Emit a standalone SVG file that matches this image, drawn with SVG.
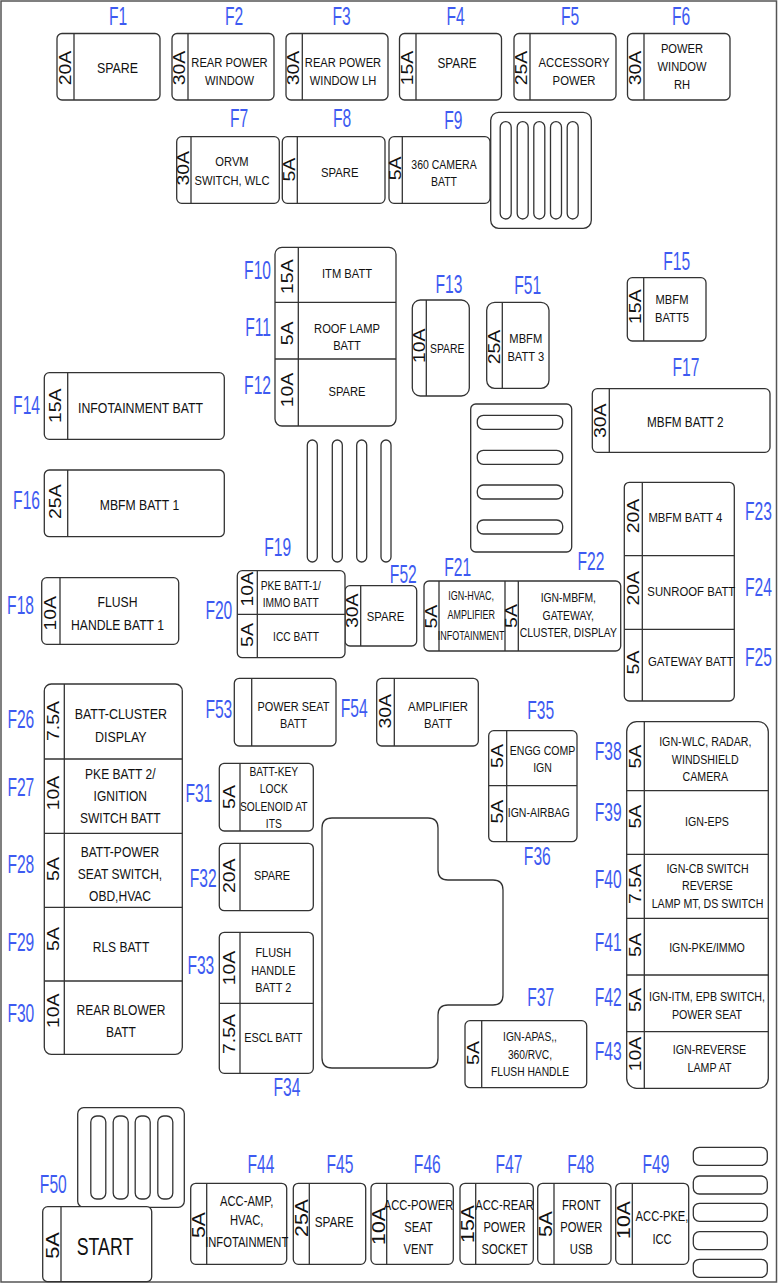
<svg xmlns="http://www.w3.org/2000/svg" width="782" height="1284" viewBox="0 0 782 1284">
<style>
.bx{fill:#fff;stroke:#333;stroke-width:1.3}
.ln{fill:none;stroke:#333;stroke-width:1.3}
.sl{fill:#fff;stroke:#333;stroke-width:1.3}
.l{font-family:"Liberation Sans",Arial,sans-serif;font-size:26px;fill:#3d5af1;text-anchor:middle;dominant-baseline:central}
.e{text-anchor:end}
.s{text-anchor:start}
.t{font-family:"Liberation Sans",Arial,sans-serif;font-size:13px;fill:#111;text-anchor:middle;dominant-baseline:central}
.a{font-family:"Liberation Sans",Arial,sans-serif;font-size:16.5px;fill:#111;text-anchor:middle;dominant-baseline:central}
</style>
<rect x="1" y="1" width="775.5" height="1281" fill="#fff" stroke="#555" stroke-width="1.5"/>

<!-- top row -->
<g id="F1"><rect class="bx" x="57" y="33.5" width="103" height="66.5" rx="5"/><path class="ln" d="M74 33.5V100"/>
<text class="a" transform="translate(65.5 68) rotate(-90) scale(1.18 1)">20A</text>
<text class="t" transform="translate(117.5 0) scale(.8 1)" style="font-size:15.5px"><tspan x="0" y="67">SPARE</tspan></text>
<text class="l" transform="translate(118 17) scale(.6 1)">F1</text></g>

<g id="F2"><rect class="bx" x="172" y="33.5" width="102" height="66.5" rx="5"/><path class="ln" d="M188 33.5V100"/>
<text class="a" transform="translate(180 68) rotate(-90) scale(1.18 1)">30A</text>
<text class="t" transform="translate(229.5 0) scale(.86 1)"><tspan x="0" y="63">REAR POWER</tspan><tspan x="0" y="80.5">WINDOW</tspan></text>
<text class="l" transform="translate(234 17) scale(.6 1)">F2</text></g>

<g id="F3"><rect class="bx" x="286" y="33.5" width="102" height="66.5" rx="5"/><path class="ln" d="M302.3 33.5V100"/>
<text class="a" transform="translate(294 68) rotate(-90) scale(1.18 1)">30A</text>
<text class="t" transform="translate(343 0) scale(.86 1)"><tspan x="0" y="63">REAR POWER</tspan><tspan x="0" y="80.5">WINDOW LH</tspan></text>
<text class="l" transform="translate(341.7 17) scale(.6 1)">F3</text></g>

<g id="F4"><rect class="bx" x="399.5" y="33.5" width="102" height="66.5" rx="5"/><path class="ln" d="M416 33.5V100"/>
<text class="a" transform="translate(407.7 68) rotate(-90) scale(1.18 1)">15A</text>
<text class="t" transform="translate(457 0) scale(.84 1)" style="font-size:14px"><tspan x="0" y="62.5">SPARE</tspan></text>
<text class="l" transform="translate(455.7 17) scale(.6 1)">F4</text></g>

<g id="F5"><rect class="bx" x="514" y="33.5" width="102" height="66.5" rx="5"/><path class="ln" d="M530 33.5V100"/>
<text class="a" transform="translate(522 68) rotate(-90) scale(1.18 1)">25A</text>
<text class="t" transform="translate(574 0) scale(.84 1)" style="font-size:13.5px"><tspan x="0" y="62.8">ACCESSORY</tspan><tspan x="0" y="80.5">POWER</tspan></text>
<text class="l" transform="translate(570 17) scale(.6 1)">F5</text></g>

<g id="F6"><rect class="bx" x="627.5" y="33.5" width="102.5" height="66.5" rx="5"/><path class="ln" d="M644 33.5V100"/>
<text class="a" transform="translate(635.7 68) rotate(-90) scale(1.18 1)">30A</text>
<text class="t" transform="translate(682 0) scale(.86 1)"><tspan x="0" y="48.7">POWER</tspan><tspan x="0" y="66.7">WINDOW</tspan><tspan x="0" y="84.3">RH</tspan></text>
<text class="l" transform="translate(681 17) scale(.6 1)">F6</text></g>

<!-- row 2 -->
<g id="F7"><rect class="bx" x="176.7" y="136.7" width="102.6" height="66.6" rx="5"/><path class="ln" d="M191 136.7V203.3"/>
<text class="a" transform="translate(183.8 168.3) rotate(-90) scale(1.18 1)">30A</text>
<text class="t" transform="translate(232 0) scale(.86 1)"><tspan x="0" y="162">ORVM</tspan><tspan x="0" y="180.3">SWITCH, WLC</tspan></text>
<text class="l" transform="translate(239 118.7) scale(.6 1)">F7</text></g>

<g id="F8"><rect class="bx" x="282.3" y="136.7" width="102.7" height="66.6" rx="5"/><path class="ln" d="M297.3 136.7V203.3"/>
<text class="a" transform="translate(289.8 169.7) rotate(-90) scale(1.18 1)">5A</text>
<text class="t" transform="translate(339.7 0) scale(.84 1)" style="font-size:13.5px"><tspan x="0" y="172.2">SPARE</tspan></text>
<text class="l" transform="translate(342 118.7) scale(.6 1)">F8</text></g>

<g id="F9"><rect class="bx" x="389" y="136.7" width="101" height="66.6" rx="5"/><path class="ln" d="M402.3 136.7V203.3"/>
<text class="a" transform="translate(395.9 168.3) rotate(-90) scale(1.18 1)">5A</text>
<text class="t" transform="translate(444 0) scale(.84 1)" style="font-size:12.5px"><tspan x="0" y="164.3">360 CAMERA</tspan><tspan x="0" y="181.7">BATT</tspan></text>
<text class="l" transform="translate(453.3 120.7) scale(.6 1)">F9</text></g>

<g id="relay-1"><rect class="bx" x="490.7" y="112.3" width="100.6" height="116" rx="8"/>
<rect class="sl" x="500.2" y="121.7" width="11" height="97.3" rx="5.5"/>
<rect class="sl" x="517.2" y="121.7" width="11" height="97.3" rx="5.5"/>
<rect class="sl" x="533.8" y="121.7" width="11" height="97.3" rx="5.5"/>
<rect class="sl" x="550.5" y="121.7" width="11" height="97.3" rx="5.5"/>
<rect class="sl" x="567.2" y="121.7" width="11" height="97.3" rx="5.5"/></g>

<!-- F10-F12 -->
<g id="block-F10-F12"><rect class="bx" x="275" y="247.3" width="121" height="178.7" rx="7"/><path class="ln" d="M298.3 247.3V426M275 302.3H396M275 359H396"/>
<g id="F10"><text class="a" transform="translate(288 276.7) rotate(-90) scale(1.18 1)">15A</text>
<text class="t" transform="translate(347 0) scale(.86 1)"><tspan x="0" y="273.3">ITM BATT</tspan></text>
<text class="l e" transform="translate(271 270.8) scale(.6 1)">F10</text></g>
<g id="F11"><text class="a" transform="translate(288 333.3) rotate(-90) scale(1.18 1)">5A</text>
<text class="t" transform="translate(347 0) scale(.86 1)"><tspan x="0" y="328.7">ROOF LAMP</tspan><tspan x="0" y="346">BATT</tspan></text>
<text class="l e" transform="translate(271 328) scale(.6 1)">F11</text></g>
<g id="F12"><text class="a" transform="translate(288 390) rotate(-90) scale(1.18 1)">10A</text>
<text class="t" transform="translate(347 0) scale(.86 1)"><tspan x="0" y="391.3">SPARE</tspan></text>
<text class="l e" transform="translate(271 385.5) scale(.6 1)">F12</text></g></g>

<g id="F13"><rect class="bx" x="412.3" y="300" width="57" height="96" rx="8"/><path class="ln" d="M426.3 300V396"/>
<text class="a" transform="translate(419.3 345.8) rotate(-90) scale(1.18 1)">10A</text>
<text class="t" transform="translate(447.2 0) scale(.8 1)"><tspan x="0" y="347">SPARE</tspan></text>
<text class="l" transform="translate(449 284.2) scale(.6 1)">F13</text></g>

<g id="F51"><rect class="bx" x="486.7" y="302.3" width="62.3" height="86" rx="8"/><path class="ln" d="M502.3 302.3V388.3"/>
<text class="a" transform="translate(494.5 347) rotate(-90) scale(1.18 1)">25A</text>
<text class="t" transform="translate(525.8 0) scale(.86 1)"><tspan x="0" y="338.7">MBFM</tspan><tspan x="0" y="356.3">BATT 3</tspan></text>
<text class="l" transform="translate(527.7 285.5) scale(.6 1)">F51</text></g>

<g id="F15"><rect class="bx" x="627.3" y="277.7" width="78.7" height="63.3" rx="5"/><path class="ln" d="M643.7 277.7V341"/>
<text class="a" transform="translate(635.5 306.7) rotate(-90) scale(1.18 1)">15A</text>
<text class="t" transform="translate(672 0) scale(.86 1)"><tspan x="0" y="300">MBFM</tspan><tspan x="0" y="317.7">BATT5</tspan></text>
<text class="l" transform="translate(676.7 261.7) scale(.6 1)">F15</text></g>

<g id="F17"><rect class="bx" x="592.3" y="388.7" width="177.7" height="63.6" rx="5"/><path class="ln" d="M609.3 388.7V452.3"/>
<text class="a" transform="translate(600.8 420.8) rotate(-90) scale(1.18 1)">30A</text>
<text class="t" transform="translate(685.3 0) scale(.84 1)" style="font-size:14px"><tspan x="0" y="421.3">MBFM BATT 2</tspan></text>
<text class="l" transform="translate(686 367.5) scale(.6 1)">F17</text></g>

<g id="relay-2"><rect class="bx" x="470.7" y="404" width="101" height="148" rx="5"/>
<rect class="sl" x="477.3" y="415.3" width="85.4" height="14" rx="6"/>
<rect class="sl" x="477.3" y="450.3" width="85.4" height="14" rx="6"/>
<rect class="sl" x="477.3" y="485" width="85.4" height="14" rx="6"/>
<rect class="sl" x="477.3" y="520" width="85.4" height="14" rx="6"/></g>

<g id="F14"><rect class="bx" x="44.3" y="372.7" width="180" height="66.6" rx="5"/><path class="ln" d="M67.7 372.7V439.3"/>
<text class="a" transform="translate(55.8 405.8) rotate(-90) scale(1.18 1)">15A</text>
<text class="t" transform="translate(140.5 0) scale(.82 1)" style="font-size:15px"><tspan x="0" y="407.2">INFOTAINMENT BATT</tspan></text>
<text class="l e" transform="translate(40 405.8) scale(.6 1)">F14</text></g>

<g id="F16"><rect class="bx" x="44.3" y="470" width="180" height="66.7" rx="5"/><path class="ln" d="M67.7 470V536.7"/>
<text class="a" transform="translate(55.8 501.7) rotate(-90) scale(1.18 1)">25A</text>
<text class="t" transform="translate(139.5 0) scale(.84 1)" style="font-size:14.5px"><tspan x="0" y="504.8">MBFM BATT 1</tspan></text>
<text class="l e" transform="translate(40 500.5) scale(.6 1)">F16</text></g>

<g id="F19"><rect class="sl" x="307.3" y="440" width="10" height="122" rx="5"/>
<rect class="sl" x="332.3" y="440" width="10" height="122" rx="5"/>
<rect class="sl" x="356.7" y="440" width="10" height="122" rx="5"/>
<rect class="sl" x="381" y="440" width="10" height="122" rx="5"/>
<text class="l" transform="translate(277.7 547.5) scale(.6 1)">F19</text></g>

<!-- F23-F25 -->
<g id="block-F23-F25"><rect class="bx" x="624.3" y="482.3" width="110" height="218.7" rx="5"/><path class="ln" d="M642.3 482.3V701M624.3 555.7H734.3M624.3 629.3H734.3"/>
<g id="F23"><text class="a" transform="translate(633.3 516) rotate(-90) scale(1.18 1)">20A</text>
<text class="t" transform="translate(685.3 0) scale(.84 1)" style="font-size:13.5px"><tspan x="0" y="518">MBFM BATT 4</tspan></text>
<text class="l s" transform="translate(745 511.7) scale(.6 1)">F23</text></g>
<g id="F24"><text class="a" transform="translate(633.3 588.3) rotate(-90) scale(1.18 1)">20A</text>
<text class="t" transform="translate(691.3 0) scale(.84 1)" style="font-size:13.5px"><tspan x="0" y="592">SUNROOF BATT</tspan></text>
<text class="l s" transform="translate(745 588) scale(.6 1)">F24</text></g>
<g id="F25"><text class="a" transform="translate(633.3 662.5) rotate(-90) scale(1.18 1)">5A</text>
<text class="t" transform="translate(690.8 0) scale(.84 1)" style="font-size:13.5px"><tspan x="0" y="661.2">GATEWAY BATT</tspan></text>
<text class="l s" transform="translate(745 657.5) scale(.6 1)">F25</text></g></g>

<g id="F18"><rect class="bx" x="41.7" y="577.7" width="137" height="66.6" rx="5"/><path class="ln" d="M60 577.7V644.3"/>
<text class="a" transform="translate(50.8 613.3) rotate(-90) scale(1.18 1)">10A</text>
<text class="t" transform="translate(117.5 0) scale(.84 1)" style="font-size:14.5px"><tspan x="0" y="601.7">FLUSH</tspan><tspan x="0" y="624.2">HANDLE BATT 1</tspan></text>
<text class="l e" transform="translate(34 605.5) scale(.6 1)">F18</text></g>

<g id="F52"><rect class="bx" x="345" y="585.7" width="71.7" height="60.3" rx="5"/><path class="ln" d="M360.7 585.7V646"/>
<text class="a" transform="translate(352.8 610.8) rotate(-90) scale(1.18 1)">30A</text>
<text class="t" transform="translate(385.5 0) scale(.84 1)" style="font-size:13.5px"><tspan x="0" y="616.3">SPARE</tspan></text>
<text class="l" transform="translate(403.3 574.2) scale(.6 1)">F52</text></g>

<g id="F20"><rect class="bx" x="237.3" y="570.7" width="107.7" height="87" rx="5"/><path class="ln" d="M257.3 570.7V657.7M237.3 614.3H345"/>
<text class="a" transform="translate(247.3 589.2) rotate(-90) scale(1.18 1)">10A</text>
<text class="a" transform="translate(247.3 635) rotate(-90) scale(1.18 1)">5A</text>
<text class="t" transform="translate(290.7 0) scale(.82 1)" style="font-size:12.5px"><tspan x="0" y="585.3">PKE BATT-1/</tspan><tspan x="0" y="602.2">IMMO BATT</tspan></text>
<text class="t" transform="translate(296 0) scale(.82 1)" style="font-size:12.5px"><tspan x="0" y="636.3">ICC BATT</tspan></text>
<text class="l e" transform="translate(232.3 610.8) scale(.6 1)">F20</text></g>

<g id="block-F21-F22"><rect class="bx" x="424" y="581" width="196.7" height="70" rx="5"/><path class="ln" d="M439 581V651M505 581V651M518.3 581V651"/>
<g id="F21"><text class="a" transform="translate(431.5 616.7) rotate(-90) scale(1.18 1)">5A</text>
<text class="t" transform="translate(471.2 0) scale(.72 1)" style="font-size:12.5px"><tspan x="0" y="595">IGN-HVAC,</tspan><tspan x="0" y="614.7">AMPLIFIER</tspan><tspan x="0" y="635">INFOTAINMENT</tspan></text>
<text class="l" transform="translate(457.7 567.2) scale(.6 1)">F21</text></g>
<g id="F22"><text class="a" transform="translate(511.7 616) rotate(-90) scale(1.18 1)">5A</text>
<text class="t" transform="translate(568.3 0) scale(.83 1)" style="font-size:12.5px"><tspan x="0" y="598">IGN-MBFM,</tspan><tspan x="0" y="615.5">GATEWAY,</tspan><tspan x="0" y="632.8">CLUSTER, DISPLAY</tspan></text>
<text class="l" transform="translate(591 561.5) scale(.6 1)">F22</text></g></g>

<!-- F26-F30 -->
<g id="block-F26-F30"><rect class="bx" x="44.3" y="684" width="138" height="370.3" rx="7"/><path class="ln" d="M64.3 684V1054.3M44.3 759H182.3M44.3 833.3H182.3M44.3 907.3H182.3M44.3 981H182.3"/>
<g id="F26"><text class="a" transform="translate(54 721) rotate(-90) scale(1.18 1)">7.5A</text>
<text class="t" transform="translate(120.8 0) scale(.83 1)" style="font-size:15px"><tspan x="0" y="713.8">BATT-CLUSTER</tspan><tspan x="0" y="736.2">DISPLAY</tspan></text>
<text class="l e" transform="translate(34.3 719.3) scale(.6 1)">F26</text></g>
<g id="F27"><text class="a" transform="translate(54 793) rotate(-90) scale(1.18 1)">10A</text>
<text class="t" transform="translate(120.3 0) scale(.83 1)" style="font-size:14.5px"><tspan x="0" y="773.7">PKE BATT 2/</tspan><tspan x="0" y="795.3">IGNITION</tspan><tspan x="0" y="817.5">SWITCH BATT</tspan></text>
<text class="l e" transform="translate(34.3 787.8) scale(.6 1)">F27</text></g>
<g id="F28"><text class="a" transform="translate(54 869) rotate(-90) scale(1.18 1)">5A</text>
<text class="t" transform="translate(120 0) scale(.83 1)" style="font-size:14.5px"><tspan x="0" y="852">BATT-POWER</tspan><tspan x="0" y="874">SEAT SWITCH,</tspan><tspan x="0" y="896">OBD,HVAC</tspan></text>
<text class="l e" transform="translate(34.3 864.2) scale(.6 1)">F28</text></g>
<g id="F29"><text class="a" transform="translate(54 939) rotate(-90) scale(1.18 1)">5A</text>
<text class="t" transform="translate(121 0) scale(.83 1)" style="font-size:14.5px"><tspan x="0" y="947">RLS BATT</tspan></text>
<text class="l e" transform="translate(34.3 943) scale(.6 1)">F29</text></g>
<g id="F30"><text class="a" transform="translate(54 1010.8) rotate(-90) scale(1.18 1)">10A</text>
<text class="t" transform="translate(121 0) scale(.83 1)" style="font-size:14.5px"><tspan x="0" y="1009.2">REAR BLOWER</tspan><tspan x="0" y="1031.2">BATT</tspan></text>
<text class="l e" transform="translate(34.3 1013.5) scale(.6 1)">F30</text></g></g>

<g id="F53"><rect class="bx" x="234.3" y="678.3" width="101.7" height="67.7" rx="5"/><path class="ln" d="M251.7 678.3V746"/>
<text class="t" transform="translate(293.5 0) scale(.84 1)"><tspan x="0" y="706.3">POWER SEAT</tspan><tspan x="0" y="723.7">BATT</tspan></text>
<text class="l e" transform="translate(232.3 709.2) scale(.6 1)">F53</text></g>

<g id="F54"><rect class="bx" x="376.7" y="678.3" width="101.6" height="67.7" rx="5"/><path class="ln" d="M394.3 678.3V746"/>
<text class="a" transform="translate(385.5 711.3) rotate(-90) scale(1.18 1)">30A</text>
<text class="t" transform="translate(438 0) scale(.84 1)" style="font-size:13.5px"><tspan x="0" y="706.3">AMPLIFIER</tspan><tspan x="0" y="723.7">BATT</tspan></text>
<text class="l e" transform="translate(367.7 709) scale(.6 1)">F54</text></g>

<g id="F31"><rect class="bx" x="219.3" y="763.3" width="94" height="67.7" rx="5"/><path class="ln" d="M240 763.3V831"/>
<text class="a" transform="translate(229.7 797) rotate(-90) scale(1.18 1)">5A</text>
<text class="t" transform="translate(273.8 0) scale(.82 1)" style="font-size:12.5px"><tspan x="0" y="772">BATT-KEY</tspan><tspan x="0" y="789">LOCK</tspan><tspan x="0" y="806.7">SOLENOID AT</tspan><tspan x="0" y="823.3">ITS</tspan></text>
<text class="l e" transform="translate(212.3 793.8) scale(.6 1)">F31</text></g>

<g id="F32"><rect class="bx" x="219.3" y="843.3" width="94" height="67.4" rx="5"/><path class="ln" d="M240 843.3V910.7"/>
<text class="a" transform="translate(229.7 875.8) rotate(-90) scale(1.18 1)">20A</text>
<text class="t" transform="translate(272 0) scale(.84 1)"><tspan x="0" y="875.3">SPARE</tspan></text>
<text class="l e" transform="translate(216.7 878.7) scale(.6 1)">F32</text></g>

<g id="block-F33-F34"><rect class="bx" x="219.3" y="932.3" width="94" height="141" rx="5"/><path class="ln" d="M240 932.3V1073.3M219.3 1003.3H313.3"/>
<g id="F33"><text class="a" transform="translate(229.7 968) rotate(-90) scale(1.18 1)">10A</text>
<text class="t" transform="translate(273.3 0) scale(.84 1)"><tspan x="0" y="952.5">FLUSH</tspan><tspan x="0" y="970.3">HANDLE</tspan><tspan x="0" y="988">BATT 2</tspan></text>
<text class="l e" transform="translate(214.3 965.5) scale(.6 1)">F33</text></g>
<g id="F34"><text class="a" transform="translate(229.7 1034) rotate(-90) scale(1.18 1)">7.5A</text>
<text class="t" transform="translate(273.3 0) scale(.84 1)"><tspan x="0" y="1038">ESCL BATT</tspan></text>
<text class="l" transform="translate(287 1088) scale(.6 1)">F34</text></g></g>

<g id="housing"><path class="ln" d="M332 818H428Q438 818 438 828V870Q438 880 448 880H493Q503 880 503 890V995Q503 1005 493 1005H448Q438 1005 438 1015V1058Q438 1068 428 1068H332Q322 1068 322 1058V828Q322 818 332 818Z"/></g>

<g id="block-F35-F36"><rect class="bx" x="488.7" y="730.7" width="88.3" height="111" rx="5"/><path class="ln" d="M506.7 730.7V841.7M488.7 785.7H577"/>
<g id="F35"><text class="a" transform="translate(497.7 756) rotate(-90) scale(1.18 1)">5A</text>
<text class="t" transform="translate(542.5 0) scale(.81 1)"><tspan x="0" y="750.3">ENGG COMP</tspan><tspan x="0" y="768">IGN</tspan></text>
<text class="l" transform="translate(540.7 710.8) scale(.6 1)">F35</text></g>
<g id="F36"><text class="a" transform="translate(497.7 811.7) rotate(-90) scale(1.18 1)">5A</text>
<text class="t" transform="translate(538.7 0) scale(.81 1)"><tspan x="0" y="812.8">IGN-AIRBAG</tspan></text>
<text class="l" transform="translate(537.3 856.5) scale(.6 1)">F36</text></g></g>

<g id="F37"><rect class="bx" x="465" y="1020.7" width="121.7" height="67" rx="5"/><path class="ln" d="M481.7 1020.7V1087.7"/>
<text class="a" transform="translate(473.3 1053) rotate(-90) scale(1.18 1)">5A</text>
<text class="t" transform="translate(530 0) scale(.82 1)" style="font-size:12.5px"><tspan x="0" y="1037">IGN-APAS,,</tspan><tspan x="0" y="1054.5">360/RVC,</tspan><tspan x="0" y="1071.3">FLUSH HANDLE</tspan></text>
<text class="l" transform="translate(540.7 997.5) scale(.6 1)">F37</text></g>

<!-- F38-F43 -->
<g id="block-F38-F43"><rect class="bx" x="626.7" y="721.7" width="141.6" height="366.6" rx="10"/><path class="ln" d="M644.3 721.7V1088.3M626.7 790.7H768.3M626.7 854.3H768.3M626.7 918.3H768.3M626.7 975H768.3M626.7 1031.7H768.3"/>
<g id="F38"><text class="a" transform="translate(635.5 756.7) rotate(-90) scale(1.18 1)">5A</text>
<text class="t" transform="translate(705.3 0) scale(.82 1)"><tspan x="0" y="741.7">IGN-WLC, RADAR,</tspan><tspan x="0" y="759.2">WINDSHIELD</tspan><tspan x="0" y="776.7">CAMERA</tspan></text>
<text class="l e" transform="translate(621.7 751.5) scale(.6 1)">F38</text></g>
<g id="F39"><text class="a" transform="translate(635.5 816.7) rotate(-90) scale(1.18 1)">5A</text>
<text class="t" transform="translate(707 0) scale(.82 1)"><tspan x="0" y="821.2">IGN-EPS</tspan></text>
<text class="l e" transform="translate(621.7 812.8) scale(.6 1)">F39</text></g>
<g id="F40"><text class="a" transform="translate(635.5 884) rotate(-90) scale(1.18 1)">7.5A</text>
<text class="t" transform="translate(707.5 0) scale(.82 1)"><tspan x="0" y="868.3">IGN-CB SWITCH</tspan><tspan x="0" y="885.5">REVERSE</tspan><tspan x="0" y="903.3">LAMP MT, DS SWITCH</tspan></text>
<text class="l e" transform="translate(621.7 880) scale(.6 1)">F40</text></g>
<g id="F41"><text class="a" transform="translate(635.5 945) rotate(-90) scale(1.18 1)">5A</text>
<text class="t" transform="translate(707 0) scale(.82 1)"><tspan x="0" y="947.2">IGN-PKE/IMMO</tspan></text>
<text class="l e" transform="translate(621.7 942.2) scale(.6 1)">F41</text></g>
<g id="F42"><text class="a" transform="translate(635.5 1000) rotate(-90) scale(1.18 1)">5A</text>
<text class="t" transform="translate(707 0) scale(.82 1)"><tspan x="0" y="996.7">IGN-ITM, EPB SWITCH,</tspan><tspan x="0" y="1014.2">POWER SEAT</tspan></text>
<text class="l e" transform="translate(621.7 997.8) scale(.6 1)">F42</text></g>
<g id="F43"><text class="a" transform="translate(635.5 1054) rotate(-90) scale(1.18 1)">10A</text>
<text class="t" transform="translate(709.5 0) scale(.82 1)"><tspan x="0" y="1049.5">IGN-REVERSE</tspan><tspan x="0" y="1067.2">LAMP AT</tspan></text>
<text class="l e" transform="translate(621.7 1051.5) scale(.6 1)">F43</text></g></g>

<!-- bottom -->
<g id="relay-3"><rect class="bx" x="77.7" y="1107.7" width="106.6" height="99.6" rx="6"/>
<rect class="sl" x="90.8" y="1116" width="15" height="83" rx="6"/>
<rect class="sl" x="113.2" y="1116" width="15" height="83" rx="6"/>
<rect class="sl" x="135.2" y="1116" width="15" height="83" rx="6"/>
<rect class="sl" x="157.8" y="1116" width="15" height="83" rx="6"/></g>

<g id="F50"><rect class="bx" x="42.7" y="1206.7" width="109" height="75" rx="5"/><path class="ln" d="M61 1206.7V1281.7"/>
<text class="a" transform="translate(51.8 1245.5) rotate(-90) scale(1.15 1)" style="font-size:19px">5A</text>
<text class="t" transform="translate(105 0) scale(.74 1)" style="font-size:24px"><tspan x="0" y="1245.8">START</tspan></text>
<text class="l" transform="translate(53.3 1184.7) scale(.6 1)">F50</text></g>

<g id="F44"><rect class="bx" x="190.7" y="1183.3" width="96" height="81" rx="5"/><path class="ln" d="M206.7 1183.3V1264.3"/>
<text class="a" transform="translate(198.7 1225) rotate(-90) scale(1.18 1)" style="font-size:18px">5A</text>
<text class="t" transform="translate(246.7 0) scale(.8 1)" style="font-size:14px"><tspan x="0" y="1201.7">ACC-AMP,</tspan><tspan x="0" y="1220.5">HVAC,</tspan><tspan x="0" y="1243">INFOTAINMENT</tspan></text>
<text class="l" transform="translate(261 1164.2) scale(.6 1)">F44</text></g>

<g id="F45"><rect class="bx" x="293.3" y="1183.3" width="72.4" height="81" rx="5"/><path class="ln" d="M309.3 1183.3V1264.3"/>
<text class="a" transform="translate(301.3 1218) rotate(-90) scale(1.18 1)" style="font-size:18px">25A</text>
<text class="t" transform="translate(334.2 0) scale(.84 1)" style="font-size:14px"><tspan x="0" y="1221.8">SPARE</tspan></text>
<text class="l" transform="translate(340 1164.2) scale(.6 1)">F45</text></g>

<g id="F46"><rect class="bx" x="371" y="1183.3" width="82.3" height="81" rx="5"/><path class="ln" d="M386.7 1183.3V1264.3"/>
<text class="a" transform="translate(378.8 1226) rotate(-90) scale(1.18 1)" style="font-size:18px">10A</text>
<text class="t" transform="translate(418.5 0) scale(.8 1)" style="font-size:14px"><tspan x="0" y="1205.8">ACC-POWER</tspan><tspan x="0" y="1227.8">SEAT</tspan><tspan x="0" y="1249.5">VENT</tspan></text>
<text class="l" transform="translate(427.3 1164.2) scale(.6 1)">F46</text></g>

<g id="F47"><rect class="bx" x="460" y="1183.3" width="73.3" height="81" rx="5"/><path class="ln" d="M475.7 1183.3V1264.3"/>
<text class="a" transform="translate(467.8 1224) rotate(-90) scale(1.18 1)" style="font-size:18px">15A</text>
<text class="t" transform="translate(504.5 0) scale(.8 1)" style="font-size:14px"><tspan x="0" y="1205.8">ACC-REAR</tspan><tspan x="0" y="1227.8">POWER</tspan><tspan x="0" y="1249.5">SOCKET</tspan></text>
<text class="l" transform="translate(509 1164.2) scale(.6 1)">F47</text></g>

<g id="F48"><rect class="bx" x="537.7" y="1183.3" width="73.3" height="81" rx="5"/><path class="ln" d="M554 1183.3V1264.3"/>
<text class="a" transform="translate(545.8 1224) rotate(-90) scale(1.18 1)" style="font-size:18px">5A</text>
<text class="t" transform="translate(581.3 0) scale(.8 1)" style="font-size:14px"><tspan x="0" y="1205.8">FRONT</tspan><tspan x="0" y="1227.8">POWER</tspan><tspan x="0" y="1249.5">USB</tspan></text>
<text class="l" transform="translate(580.7 1164.2) scale(.6 1)">F48</text></g>

<g id="F49"><rect class="bx" x="615.7" y="1183.3" width="73" height="81" rx="5"/><path class="ln" d="M632.3 1183.3V1264.3"/>
<text class="a" transform="translate(624 1220) rotate(-90) scale(1.18 1)" style="font-size:18px">10A</text>
<text class="t" transform="translate(662 0) scale(.8 1)" style="font-size:14px"><tspan x="0" y="1216.7">ACC-PKE,</tspan><tspan x="0" y="1239.5">ICC</tspan></text>
<text class="l" transform="translate(656 1164.2) scale(.6 1)">F49</text></g>

<g id="relay-4"><rect class="sl" x="693.3" y="1147.3" width="74" height="18" rx="6"/>
<rect class="sl" x="693.3" y="1176" width="74" height="18" rx="6"/>
<rect class="sl" x="693.3" y="1203.3" width="74" height="18" rx="6"/>
<rect class="sl" x="693.3" y="1231.7" width="74" height="18" rx="6"/>
<rect class="sl" x="693.3" y="1259.3" width="74" height="18" rx="6"/></g>
</svg>
